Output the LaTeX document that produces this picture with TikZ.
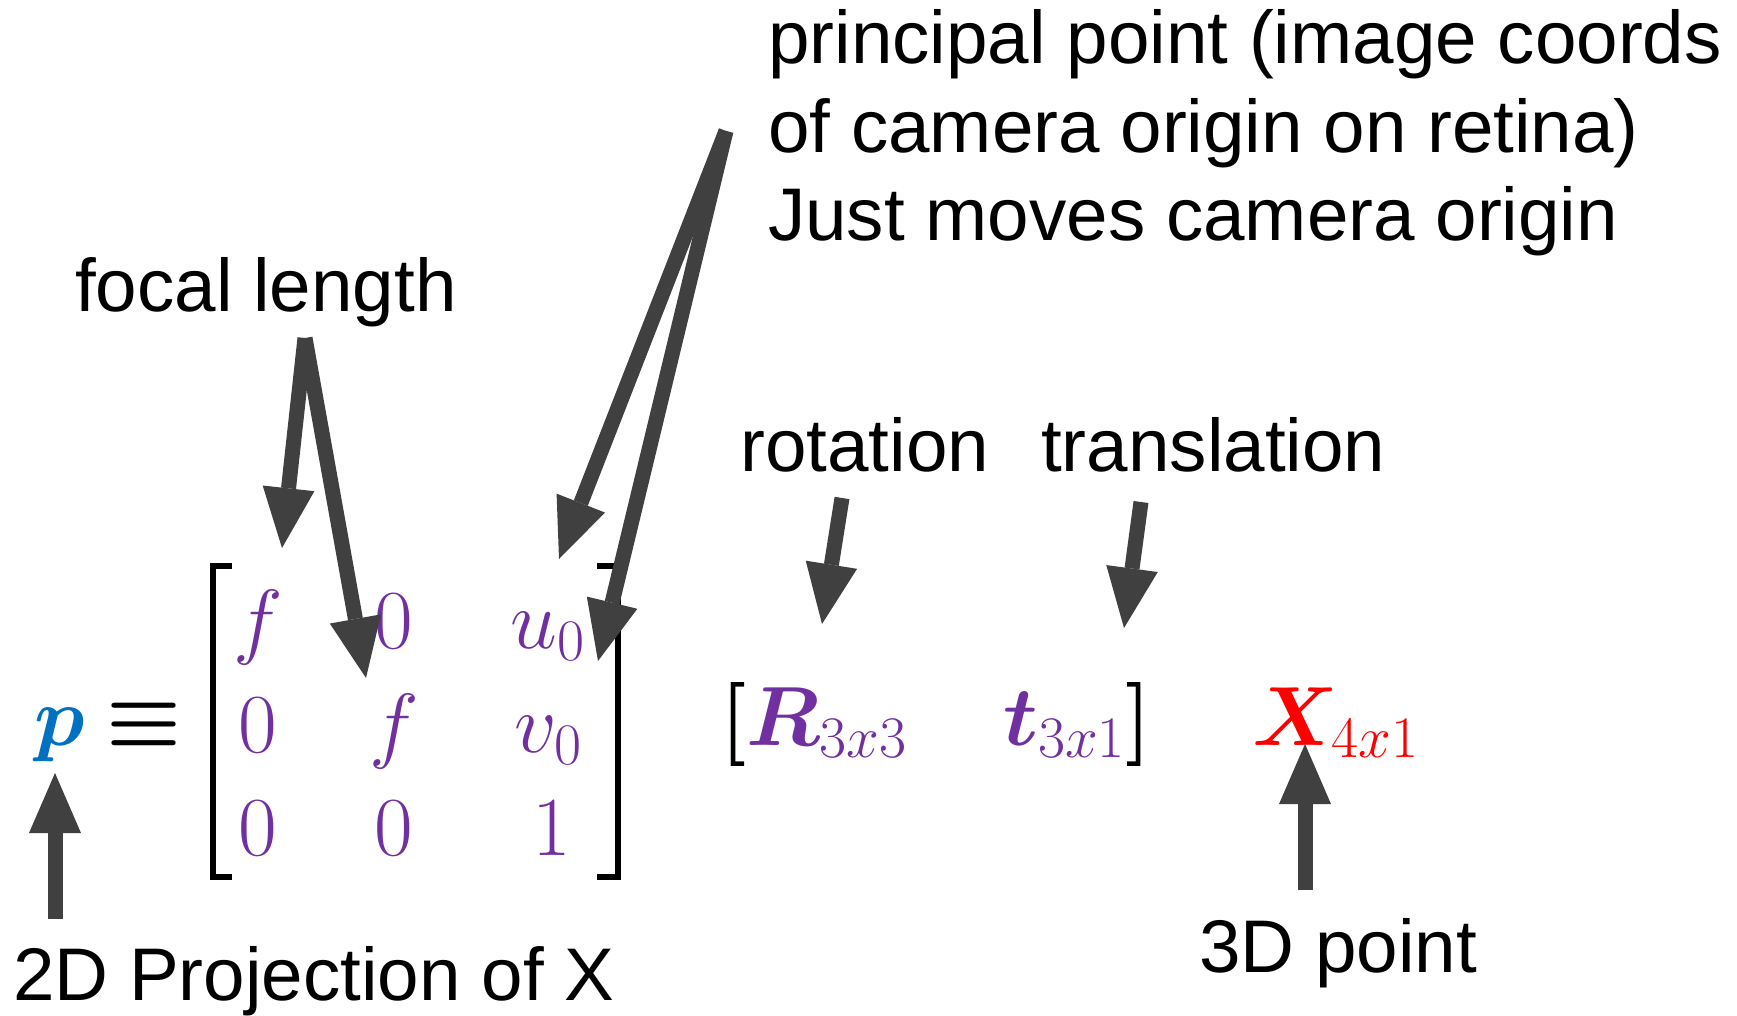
\documentclass[tikz,border=0pt]{standalone}
\usepackage{fix-cm}
\usepackage{amsmath,bm}
\usepackage[no-math]{fontspec}
\setmainfont{Liberation Sans}
\usetikzlibrary{arrows.meta}
\definecolor{arrgray}{HTML}{404040}
\definecolor{mpurple}{HTML}{7030A0}
\definecolor{mblue}{HTML}{0070C0}
\definecolor{mred}{HTML}{FF0000}
\begin{document}
\begin{tikzpicture}[x=1pt,y=-1pt,
  lbl/.style={font=\fontsize{74.6}{88}\selectfont, anchor=base west, inner sep=0pt},
  mth/.style={font=\fontsize{84}{100}\selectfont, inner sep=0pt, anchor=base, text=mpurple},
  arr/.style={draw=arrgray, line width=15pt, -{Triangle[length=60pt,width=52pt,line width=0pt]}},
  brk/.style={draw=black, line width=6pt}]
\useasboundingbox (0,0) rectangle (1737,1016);
% labels
\node[lbl] (pp1) at (768,64) {principal point (image coords};
\node[lbl] (pp2) at (768,153) {of camera origin on retina)};
\node[lbl] (pp3) at (768,241) {Just moves camera origin};
\node[lbl] (fl) at (75,312) {focal length};
\node[lbl] (rot) at (740,471) {rotation};
\node[lbl] (tr) at (1041,471) {translation};
\node[lbl] (pt3) at (1199,972) {3D point};
\node[lbl] (proj) at (13,1000) {2D Projection of X};
% equation
\node[mth, text=mblue] (p) at (60,745) {$\bm{p}$};
\node[mth, text=black] (eq) at (144,745) {$\bm{\equiv}$};
\node[mth] (m11) at (258,648) {$f$};
\node[mth] (m12) at (394,648) {$0$};
\node[mth] (m13) at (548,648) {$u_0$};
\node[mth] (m21) at (258,752) {$0$};
\node[mth] (m22) at (394,752) {$f$};
\node[mth] (m23) at (548,752) {$v_0$};
\node[mth] (m31) at (258,855) {$0$};
\node[mth] (m32) at (394,855) {$0$};
\node[mth] (m33) at (552,855) {$1$};
\draw[brk] (232,566) -- (213,566) -- (213,877) -- (232,877);
\draw[brk] (597,566) -- (618,566) -- (618,877) -- (597,877);
\node[mth, anchor=base west] (R) at (720,745) {$\textcolor{black}{\bm{[}}\bm{R}_{3x3}$};
\node[mth, anchor=base west] (t) at (1003,745) {$\bm{t}_{3x1}\textcolor{black}{\bm{]}}$};
\node[mth, anchor=base west, text=mred] (X) at (1252,745) {$\bm{X}_{4x1}$};
% arrow ends
\coordinate (flS) at (305,338);
\coordinate (flT1) at (282,548);
\coordinate (flT2) at (366,678);
\coordinate (ppS) at (726,131);
\coordinate (ppT1) at (559,559);
\coordinate (ppT2) at (598,661);
\coordinate (rotS) at (842,498);
\coordinate (rotT) at (822,624);
\coordinate (trS) at (1141,502);
\coordinate (trT) at (1124,628);
\coordinate (xS) at (1305,890);
\coordinate (xT) at (1305,744);
\coordinate (pS) at (55,919);
\coordinate (pT) at (55,773);
\draw[arr] (flS) -- (flT1);
\draw[arr] (flS) -- (flT2);
\draw[arr] (ppS) -- (ppT1);
\draw[arr] (ppS) -- (ppT2);
\draw[arr] (rotS) -- (rotT);
\draw[arr] (trS) -- (trT);
\draw[arr] (xS) -- (xT);
\draw[arr] (pS) -- (pT);
\end{tikzpicture}
\end{document}
